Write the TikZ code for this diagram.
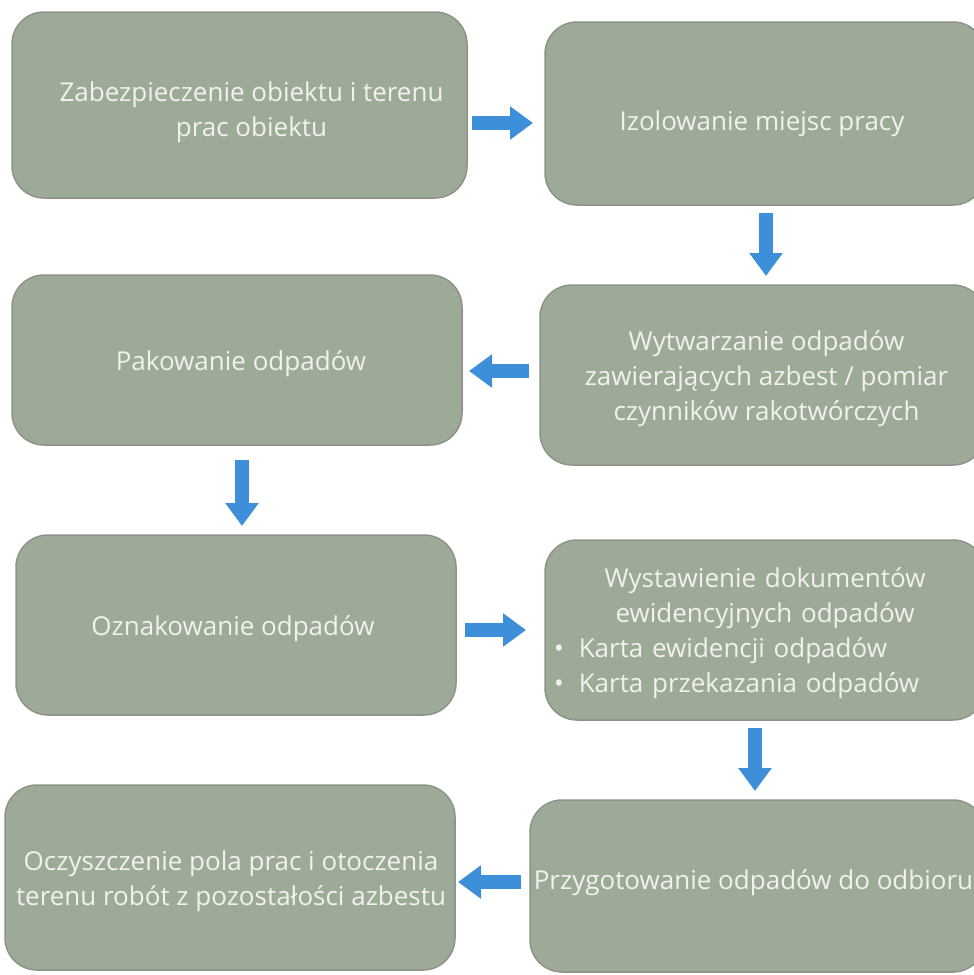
\documentclass[tikz,border=0pt]{standalone}
\usepackage{fontspec}
\setmainfont{Open Sans}
\usetikzlibrary{arrows.meta,calc}
\definecolor{boxfill}{HTML}{9EAA98}
\definecolor{boxline}{HTML}{8C9488}
\definecolor{boxtext}{HTML}{F0F2EC}
\definecolor{arrowblue}{HTML}{3D8FDA}
\tikzset{
  box/.style={draw=boxline, line width=1.5pt, fill=boxfill, rounded corners=32pt, inner sep=0pt},
  boxlabel/.style={text=boxtext, align=center, inner sep=0pt, font=\fontsize{26}{35}\selectfont},
  blockarrow/.style={draw=arrowblue, line width=14pt,
    -{Triangle[width=32pt,length=23pt,fill=arrowblue]}}
}
\begin{document}
\begin{tikzpicture}[x=1pt,y=-1pt]
\useasboundingbox (0,0) rectangle (974,975);
\node[box, minimum width=455pt, minimum height=186pt] (b1) at (239.5,105) {};
\node[box, minimum width=440pt, minimum height=183pt] (b2) at (765,113.5) {};
\node[box, minimum width=450pt, minimum height=170pt] (b3) at (237,360) {};
\node[box, minimum width=445pt, minimum height=180pt] (b4) at (762.5,375) {};
\node[box, minimum width=440pt, minimum height=180pt] (b5) at (236,625) {};
\node[box, minimum width=440pt, minimum height=180pt] (b6) at (765,630) {};
\node[box, minimum width=450pt, minimum height=185pt] (b7) at (230,877.5) {};
\node[box, minimum width=455pt, minimum height=172pt] (b8) at (757.5,886) {};
% texts
\node[boxlabel] (t1) at ($(b1.center)+(12,7)$) {Zabezpieczenie obiektu i terenu\\prac obiektu};
\node[boxlabel] (t2) at ($(b2.center)+(-3,10)$) {Izolowanie miejsc pracy};
\node[boxlabel] (t3) at ($(b3.center)+(4,4)$) {Pakowanie odpadów};
\node[boxlabel] (t4) at ($(b4.center)+(4,4)$) {Wytwarzanie odpadów\\zawierających azbest / pomiar\\czynników rakotwórczych};
\node[boxlabel] (t5) at ($(b5.center)+(-3,4)$) {Oznakowanie odpadów};
\node[boxlabel, text width=430pt] (t6) at ($(b6.center)+(0,3)$) {Wystawienie dokumentów\\ewidencyjnych odpadów\\
\makebox[430pt][l]{\hspace{4pt}•\hspace{15pt}Karta ewidencji odpadów}\\
\makebox[430pt][l]{\hspace{4pt}•\hspace{15pt}Karta przekazania odpadów}};
\node[boxlabel] (t7) at ($(b7.center)+(1,4)$) {Oczyszczenie pola prac i otoczenia\\terenu robót z pozostałości azbestu};
\node[boxlabel] (t8) at ($(b8.center)+(-4,-3)$) {Przygotowanie odpadów do odbioru};
% arrows
\coordinate (a1s) at (472,123); \coordinate (a1e) at (533,123);
\coordinate (d1s) at (766,213); \coordinate (d1e) at (766,276);
\coordinate (a2s) at (529,371); \coordinate (a2e) at (469,371);
\coordinate (d2s) at (242,460); \coordinate (d2e) at (242,526);
\coordinate (a3s) at (465,630); \coordinate (a3e) at (526,630);
\coordinate (d3s) at (755,728); \coordinate (d3e) at (755,791);
\coordinate (a4s) at (521,882); \coordinate (a4e) at (458,882);
\draw[blockarrow] (a1s) -- (a1e);
\draw[blockarrow] (d1s) -- (d1e);
\draw[blockarrow] (a2s) -- (a2e);
\draw[blockarrow] (d2s) -- (d2e);
\draw[blockarrow] (a3s) -- (a3e);
\draw[blockarrow] (d3s) -- (d3e);
\draw[blockarrow] (a4s) -- (a4e);
\end{tikzpicture}
\end{document}
